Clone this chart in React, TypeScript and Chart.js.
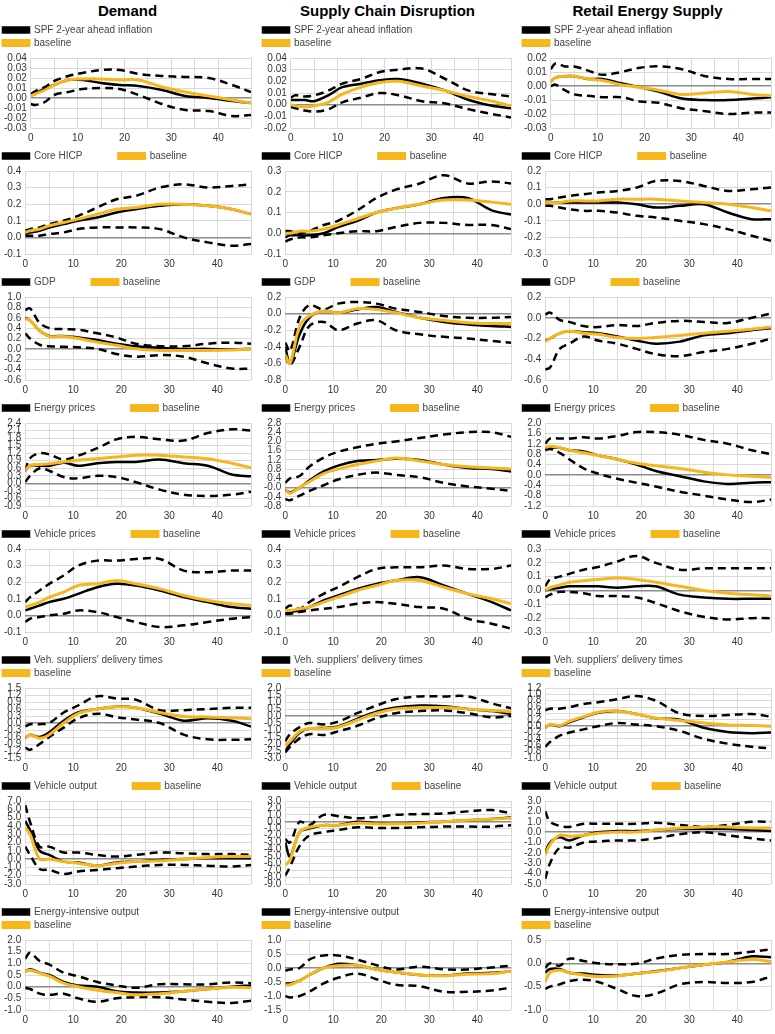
import { useEffect, useRef } from "react"
import { Chart, registerables } from "chart.js"

Chart.register(...registerables)

// horizon (months) at which values were read
const horizon = [0, 1, 3, 5, 8, 11, 15, 19, 23, 28, 33, 38, 43, 47]

const shocks = ["Demand", "Supply Chain Disruption", "Retail Energy Supply"]

// each panel: [median, baseline, upper band, lower band]
const spfDemand = [
  [0.003, 0.005, 0.009, 0.013, 0.018, 0.018, 0.015, 0.013, 0.012, 0.008, 0.002, 0.0, -0.003, -0.005],
  [0.002, 0.004, 0.008, 0.013, 0.018, 0.019, 0.019, 0.018, 0.018, 0.011, 0.006, 0.002, -0.002, -0.005],
  [0.004, 0.007, 0.011, 0.017, 0.022, 0.025, 0.028, 0.028, 0.024, 0.022, 0.021, 0.02, 0.013, 0.006],
  [-0.006, -0.007, -0.004, 0.003, 0.006, 0.009, 0.01, 0.009, 0.003, -0.006, -0.012, -0.013, -0.018, -0.017],
]
const spfSupply = [
  [0.004, 0.004, 0.004, 0.003, 0.008, 0.015, 0.018, 0.021, 0.022, 0.018, 0.012, 0.004, -0.001, -0.003],
  [0.0, -0.001, -0.002, -0.001, 0.002, 0.009, 0.015, 0.019, 0.02, 0.016, 0.012, 0.007, 0.003, -0.001],
  [0.006, 0.008, 0.007, 0.008, 0.012, 0.018, 0.022, 0.028, 0.03, 0.031, 0.022, 0.012, 0.009, 0.007],
  [-0.002, -0.003, -0.005, -0.006, -0.004, 0.002, 0.006, 0.01, 0.008, 0.003, 0.001, -0.004, -0.008, -0.011],
]
const spfEnergy = [
  [0.003, 0.006, 0.007, 0.007, 0.005, 0.005, 0.002, -0.001, -0.004, -0.009, -0.01, -0.01, -0.009, -0.008],
  [0.003, 0.006, 0.007, 0.007, 0.005, 0.004, 0.001, -0.001, -0.003, -0.006, -0.005, -0.004, -0.006, -0.007],
  [0.012, 0.016, 0.014, 0.014, 0.011, 0.008, 0.01, 0.013, 0.014, 0.012, 0.007, 0.005, 0.005, 0.005],
  [0.0, 0.001, -0.003, -0.006, -0.007, -0.008, -0.008, -0.011, -0.012, -0.016, -0.018, -0.02, -0.019, -0.019],
]
const hicpDemand = [
  [0.02, 0.03, 0.04, 0.06, 0.08, 0.1, 0.12, 0.15, 0.17, 0.19, 0.2, 0.19, 0.17, 0.14],
  [0.03, 0.04, 0.05, 0.07, 0.09, 0.11, 0.14, 0.17, 0.18, 0.2, 0.2, 0.19, 0.17, 0.14],
  [0.04, 0.05, 0.06, 0.08, 0.1, 0.13, 0.18, 0.23, 0.25, 0.3, 0.32, 0.3, 0.31, 0.32],
  [0.01, 0.01, 0.01, 0.02, 0.03, 0.05, 0.06, 0.06, 0.06, 0.05, 0.0, -0.03, -0.05, -0.04],
]
const hicpSupply = [
  [-0.02, -0.01, -0.01, -0.01, 0.0, 0.03, 0.06, 0.1, 0.12, 0.14, 0.17, 0.17, 0.11, 0.09],
  [0.0, 0.0, 0.01, 0.01, 0.02, 0.04, 0.07, 0.1, 0.12, 0.14, 0.16, 0.16, 0.15, 0.14],
  [0.01, 0.01, 0.0, 0.01, 0.04, 0.06, 0.11, 0.17, 0.21, 0.24, 0.28, 0.24, 0.25, 0.24],
  [-0.04, -0.03, -0.02, -0.02, -0.01, 0.0, 0.01, 0.01, 0.03, 0.05, 0.05, 0.04, 0.04, 0.02],
]
const hicpEnergy = [
  [0.01, 0.01, 0.01, 0.01, 0.01, 0.01, 0.01, 0.0, -0.02, -0.01, 0.0, -0.05, -0.09, -0.09],
  [0.01, 0.01, 0.01, 0.02, 0.02, 0.02, 0.03, 0.03, 0.03, 0.02, 0.01, 0.0, -0.02, -0.04],
  [0.03, 0.03, 0.04, 0.05, 0.06, 0.07, 0.08, 0.1, 0.14, 0.14, 0.11, 0.08, 0.09, 0.1],
  [-0.01, -0.01, -0.02, -0.03, -0.04, -0.04, -0.05, -0.07, -0.08, -0.1, -0.12, -0.15, -0.19, -0.22],
]
const gdpDemand = [
  [0.6, 0.55, 0.35, 0.25, 0.25, 0.22, 0.17, 0.1, 0.05, 0.02, 0.0, 0.0, -0.01, 0.0],
  [0.58, 0.55, 0.35, 0.24, 0.24, 0.2, 0.13, 0.07, 0.0, -0.03, -0.03, -0.03, -0.02, 0.0],
  [0.75, 0.78, 0.5, 0.4, 0.38, 0.37, 0.3, 0.22, 0.1, 0.05, 0.05, 0.1, 0.12, 0.1],
  [0.3, 0.2, 0.08, 0.05, 0.04, 0.03, 0.0, -0.1, -0.15, -0.12, -0.15, -0.28, -0.38, -0.38],
]
const gdpSupply = [
  [-0.4, -0.6, -0.25, -0.05, 0.03, 0.01, 0.05, 0.08, 0.02, -0.05, -0.1, -0.13, -0.15, -0.16],
  [-0.5, -0.6, -0.15, -0.03, 0.03, 0.01, 0.06, 0.05, 0.01, -0.05, -0.08, -0.11, -0.12, -0.12],
  [-0.35, -0.45, -0.05, 0.1, 0.05, 0.12, 0.14, 0.12, 0.06, 0.02, -0.03, -0.05, -0.05, -0.04],
  [-0.5, -0.62, -0.4, -0.15, -0.1, -0.2, -0.12, -0.08, -0.2, -0.25, -0.28, -0.3, -0.33, -0.35],
]
const gdpEnergy = [
  [-0.22, -0.2, -0.15, -0.13, -0.14, -0.15, -0.18, -0.22, -0.25, -0.23, -0.17, -0.15, -0.12, -0.1],
  [-0.23, -0.2, -0.15, -0.13, -0.15, -0.16, -0.19, -0.2, -0.19, -0.17, -0.15, -0.13, -0.11, -0.09],
  [0.03, 0.05, -0.02, -0.04, -0.08, -0.09, -0.07, -0.08, -0.05, -0.03, -0.04, -0.05, 0.0, 0.04],
  [-0.5, -0.48, -0.3, -0.25, -0.18, -0.22, -0.25, -0.3, -0.35, -0.37, -0.33, -0.3, -0.25, -0.2],
]
const enpDemand = [
  [0.5, 0.7, 0.7, 0.7, 0.82, 0.7, 0.8, 0.85, 0.85, 0.95, 0.8, 0.7, 0.35, 0.28],
  [0.5, 0.72, 0.75, 0.78, 0.85, 0.92, 0.98, 1.05, 1.12, 1.12, 1.05, 0.98, 0.8, 0.62],
  [0.5, 1.0, 1.2, 1.15, 0.95, 1.1, 1.4, 1.75, 1.85, 1.75, 1.7, 2.0, 2.15, 2.1],
  [0.05, 0.3, 0.6, 0.5, 0.25, 0.2, 0.3, 0.25, 0.05, -0.25, -0.45, -0.5, -0.45, -0.33],
]
const enpSupply = [
  [-0.1, -0.2, 0.0, 0.3, 0.7, 0.95, 1.15, 1.2, 1.25, 1.2, 1.0, 0.85, 0.8, 0.7],
  [-0.1, -0.25, 0.0, 0.25, 0.6, 0.8, 1.0, 1.15, 1.28, 1.15, 1.0, 0.9, 0.85, 0.8],
  [0.2, 0.4, 0.5, 0.9, 1.3, 1.55, 1.75, 1.9, 2.0, 2.15, 2.3, 2.4, 2.4, 2.2],
  [-0.5, -0.55, -0.35, -0.15, 0.1, 0.35, 0.55, 0.65, 0.55, 0.45, 0.2, 0.05, -0.05, -0.15],
]
const enpEnergy = [
  [1.0, 1.05, 1.05, 0.95, 0.9, 0.75, 0.6, 0.4, 0.15, -0.05, -0.25, -0.35, -0.3, -0.28],
  [1.05, 1.1, 1.05, 0.95, 0.85, 0.75, 0.6, 0.45, 0.35, 0.25, 0.1, 0.0, -0.05, -0.1],
  [1.2, 1.4, 1.4, 1.4, 1.45, 1.4, 1.5, 1.65, 1.65, 1.55, 1.35, 1.2, 0.95, 0.8],
  [0.95, 1.0, 0.85, 0.6, 0.25, 0.05, -0.15, -0.3, -0.45, -0.65, -0.8, -0.95, -1.05, -0.95],
]
const vehpDemand = [
  [0.03, 0.04, 0.06, 0.08, 0.1, 0.13, 0.17, 0.19, 0.18, 0.15, 0.11, 0.08, 0.05, 0.04],
  [0.05, 0.06, 0.08, 0.11, 0.14, 0.18, 0.19, 0.21, 0.19, 0.16, 0.12, 0.09, 0.07, 0.06],
  [0.08, 0.11, 0.15, 0.19, 0.24, 0.3, 0.33, 0.33, 0.34, 0.34, 0.27, 0.26, 0.27, 0.27],
  [-0.04, -0.02, -0.01, 0.0, 0.01, 0.03, 0.02, -0.01, -0.04, -0.07, -0.06, -0.04, -0.02, -0.01],
]
const vehpSupply = [
  [0.01, 0.02, 0.03, 0.05, 0.09, 0.12, 0.16, 0.19, 0.21, 0.23, 0.18, 0.13, 0.08, 0.03],
  [0.03, 0.03, 0.04, 0.05, 0.08, 0.11, 0.15, 0.18, 0.21, 0.21, 0.17, 0.13, 0.1, 0.07],
  [0.04, 0.06, 0.04, 0.08, 0.13, 0.17, 0.23, 0.28, 0.29, 0.29, 0.3, 0.28, 0.28, 0.3],
  [0.01, 0.01, 0.02, 0.03, 0.04, 0.05, 0.07, 0.08, 0.07, 0.05, 0.04, -0.02, -0.05, -0.08],
]
const vehpEnergy = [
  [0.0, 0.01, 0.02, 0.03, 0.03, 0.03, 0.02, 0.03, 0.03, -0.03, -0.05, -0.06, -0.06, -0.06],
  [0.0, 0.02, 0.04, 0.06, 0.07, 0.08, 0.09, 0.08, 0.06, 0.03, 0.0, -0.02, -0.03, -0.04],
  [0.03, 0.08, 0.1, 0.12, 0.15, 0.17, 0.21, 0.25, 0.2, 0.15, 0.16, 0.16, 0.16, 0.16],
  [-0.05, -0.03, -0.01, -0.01, -0.02, -0.04, -0.04, -0.05, -0.09, -0.15, -0.19, -0.21, -0.2, -0.2],
]
const delDemand = [
  [-0.65, -0.5, -0.6, -0.4, 0.1, 0.45, 0.6, 0.7, 0.65, 0.4, 0.1, 0.2, 0.1, -0.15],
  [-0.65, -0.5, -0.65, -0.5, 0.0, 0.4, 0.6, 0.7, 0.65, 0.45, 0.28, 0.26, 0.22, 0.18],
  [-0.15, -0.05, -0.05, 0.0, 0.45, 0.75, 1.15, 1.05, 1.0, 0.55, 0.55, 0.6, 0.65, 0.65],
  [-1.05, -1.15, -0.9, -0.6, -0.2, 0.2, 0.4, 0.25, 0.15, 0.0, -0.5, -0.7, -0.72, -0.7],
]
const delSupply = [
  [-2.5, -2.0, -1.2, -0.9, -0.85, -0.75, -0.2, 0.3, 0.6, 0.75, 0.7, 0.5, 0.35, 0.15],
  [-2.1, -1.8, -1.1, -0.9, -0.9, -0.8, -0.3, 0.2, 0.5, 0.6, 0.6, 0.5, 0.4, 0.3],
  [-1.8, -1.3, -0.8, -0.5, -0.6, -0.4, 0.2, 0.75, 1.2, 1.4, 1.4, 1.4, 0.9, 0.55],
  [-2.6, -2.2, -1.6, -1.3, -1.35, -1.1, -0.7, -0.15, 0.2, 0.35, 0.4, 0.2, -0.1, 0.0],
]
const delEnergy = [
  [-0.05, 0.05, 0.0, 0.12, 0.28, 0.42, 0.48, 0.38, 0.25, 0.2, -0.05, -0.18, -0.22, -0.2],
  [-0.05, 0.06, 0.02, 0.15, 0.3, 0.44, 0.48, 0.38, 0.26, 0.18, 0.1, 0.04, 0.02, 0.0],
  [0.5, 0.55, 0.55, 0.6, 0.7, 0.75, 0.85, 0.95, 0.8, 0.4, 0.32, 0.35, 0.38, 0.3],
  [-0.65, -0.5, -0.3, -0.2, -0.1, 0.0, 0.1, 0.05, 0.0, -0.15, -0.4, -0.55, -0.65, -0.7],
]
const vehoDemand = [
  [4.6, 3.5, 1.0, 0.5, -0.3, -0.4, -0.8, -0.4, -0.3, -0.1, 0.0, 0.1, 0.1, 0.1],
  [3.8, 3.0, 0.0, 0.0, -0.3, -0.5, -0.8, -0.5, -0.3, -0.2, 0.0, 0.2, 0.3, 0.3],
  [6.5, 4.5, 1.5, 1.5, 0.8, 0.8, 0.5, 0.3, 0.5, 0.8, 0.7, 0.6, 0.6, 0.5],
  [1.5, 0.5, -1.2, -1.3, -1.8, -1.5, -1.3, -1.1, -0.9, -0.7, -0.7, -0.8, -0.9, -0.7],
]
const vehoSupply = [
  [-3.0, -5.0, -1.5, -1.0, -0.5, -0.5, 0.0, -0.2, -0.3, -0.1, 0.0, 0.2, 0.4, 0.6],
  [-6.3, -5.5, -1.5, -0.8, -0.5, -0.5, -0.2, -0.3, -0.3, -0.2, 0.0, 0.2, 0.4, 0.5],
  [-2.5, -3.0, 0.0, -0.5, 1.0, 0.8, 0.5, 0.7, 1.0, 1.1, 1.2, 1.5, 1.7, 1.2],
  [-7.8, -6.5, -3.5, -2.0, -1.5, -1.2, -0.8, -0.9, -0.9, -0.8, -0.7, -0.7, -0.7, -0.5],
]
const vehoEnergy = [
  [-2.0, -1.0, -0.5, -0.8, -0.3, 0.0, 0.1, 0.1, 0.2, 0.3, 0.3, 0.3, 0.2, 0.1],
  [-2.2, -1.2, -0.3, -0.4, -0.3, -0.1, 0.0, 0.0, 0.2, 0.4, 0.5, 0.5, 0.4, 0.4],
  [2.0, 1.0, 0.6, 0.5, 0.8, 0.8, 0.8, 0.8, 0.9, 0.7, 0.5, 0.7, 1.0, 1.0],
  [-4.5, -3.0, -1.5, -1.5, -1.0, -0.9, -0.8, -0.8, -0.6, -0.2, 0.0, -0.3, -0.6, -0.8],
]
const eioDemand = [
  [0.65, 0.75, 0.6, 0.5, 0.2, 0.05, 0.0, -0.2, -0.25, -0.25, -0.2, -0.1, 0.0, 0.05],
  [0.65, 0.7, 0.58, 0.45, 0.15, 0.0, -0.15, -0.25, -0.35, -0.3, -0.2, -0.1, -0.03, -0.05],
  [1.2, 1.45, 1.1, 0.95, 0.6, 0.45, 0.2, 0.05, -0.05, 0.1, 0.1, 0.1, 0.18, 0.15],
  [-0.05, -0.1, -0.3, -0.35, -0.3, -0.5, -0.65, -0.5, -0.45, -0.45, -0.55, -0.65, -0.7, -0.6],
]
const eioSupply = [
  [-0.55, -0.55, -0.45, -0.25, 0.0, 0.15, 0.1, -0.05, -0.15, -0.25, -0.27, -0.2, -0.17, -0.12],
  [-0.6, -0.6, -0.45, -0.25, 0.0, 0.08, 0.1, -0.05, -0.15, -0.25, -0.28, -0.22, -0.2, -0.12],
  [-0.1, -0.05, 0.0, 0.3, 0.45, 0.45, 0.3, 0.1, -0.05, 0.05, -0.05, -0.05, 0.02, 0.08],
  [-1.0, -1.05, -1.0, -0.85, -0.55, -0.35, -0.2, -0.4, -0.6, -0.65, -0.85, -0.85, -0.8, -0.7],
]
const eioEnergy = [
  [-0.2, -0.12, -0.12, -0.2, -0.22, -0.25, -0.26, -0.22, -0.17, -0.1, -0.03, 0.03, 0.15, 0.13],
  [-0.4, -0.2, -0.15, -0.2, -0.25, -0.28, -0.27, -0.22, -0.18, -0.1, -0.03, 0.03, 0.08, 0.04],
  [-0.1, 0.0, -0.05, 0.1, 0.05, 0.0, -0.02, -0.01, 0.1, 0.18, 0.2, 0.2, 0.25, 0.3],
  [-0.55, -0.5, -0.45, -0.38, -0.35, -0.4, -0.55, -0.7, -0.65, -0.45, -0.4, -0.42, -0.4, -0.28],
]

// rows: label, y range/step, decimals, one data set per shock; wrap = legend on two lines
const rows = [
  { label: "SPF 2-year ahead inflation", wrap: true, dec: 2, axes: [[-0.03, 0.04, 0.01], [-0.02, 0.04, 0.01], [-0.03, 0.02, 0.01]], data: [spfDemand, spfSupply, spfEnergy] },
  { label: "Core HICP", wrap: false, dec: 1, axes: [[-0.1, 0.4, 0.1], [-0.1, 0.3, 0.1], [-0.3, 0.2, 0.1]], data: [hicpDemand, hicpSupply, hicpEnergy] },
  { label: "GDP", wrap: false, dec: 1, axes: [[-0.6, 1.0, 0.2], [-0.8, 0.2, 0.2], [-0.6, 0.2, 0.2]], data: [gdpDemand, gdpSupply, gdpEnergy] },
  { label: "Energy prices", wrap: false, dec: 1, axes: [[-0.9, 2.4, 0.3], [-0.8, 2.8, 0.4], [-1.2, 2.0, 0.4]], data: [enpDemand, enpSupply, enpEnergy] },
  { label: "Vehicle prices", wrap: false, dec: 1, axes: [[-0.1, 0.4, 0.1], [-0.1, 0.4, 0.1], [-0.3, 0.3, 0.1]], data: [vehpDemand, vehpSupply, vehpEnergy] },
  { label: "Veh. suppliers' delivery times", wrap: true, dec: 1, axes: [[-1.5, 1.5, 0.3], [-3.0, 2.0, 0.5], [-1.0, 1.2, 0.2]], data: [delDemand, delSupply, delEnergy] },
  { label: "Vehicle output", wrap: false, dec: 1, axes: [[-3, 7, 1], [-9, 3, 1], [-5, 3, 1]], data: [vehoDemand, vehoSupply, vehoEnergy] },
  { label: "Energy-intensive output", wrap: true, dec: 1, axes: [[-1, 2, 0.5], [-1.5, 1, 0.5], [-1, 0.5, 0.5]], data: [eioDemand, eioSupply, eioEnergy] },
]

const ORANGE = "#F7B71C"
const FONT = "Liberation Sans, Arial"

function Panel({ label, wrap, series, axis, dec }: { label: string; wrap: boolean; series: number[][]; axis: number[]; dec: number }) {
  const canvasRef = useRef<HTMLCanvasElement>(null)

  useEffect(() => {
    if (!canvasRef.current) return
    const pts = (arr: number[]) => arr.map((y, i) => ({ x: horizon[i], y }))
    // non-breaking spaces push "baseline" onto its own line, like the original
    const shown = wrap ? label + "\u00a0".repeat(40) : label + "\u00a0".repeat(12)
    const chart = new Chart(canvasRef.current, {
      type: "line",
      data: {
        datasets: [
          { label: shown, data: pts(series[0]), borderColor: "#000", backgroundColor: "#000", borderWidth: 2.5, order: 2 },
          { label: "baseline", data: pts(series[1]), borderColor: ORANGE, backgroundColor: ORANGE, borderWidth: 3, order: 1 },
          { label: "up", data: pts(series[2]), borderColor: "#000", borderWidth: 2.5, borderDash: [8, 5], order: 3 },
          { label: "lo", data: pts(series[3]), borderColor: "#000", borderWidth: 2.5, borderDash: [8, 5], order: 3 },
        ],
      },
      options: {
        animation: false,
        responsive: true,
        maintainAspectRatio: false,
        layout: { padding: { right: 4 } },
        elements: { point: { radius: 0 }, line: { tension: 0.35 } },
        plugins: {
          tooltip: { enabled: false },
          legend: {
            align: "start",
            labels: {
              filter: (item) => (item.datasetIndex ?? 0) < 2,
              sort: (a, b) => (a.datasetIndex ?? 0) - (b.datasetIndex ?? 0),
              boxWidth: 26,
              boxHeight: 5,
              padding: 3,
              color: "#444",
              font: { family: FONT, size: 10 },
            },
          },
        },
        scales: {
          x: {
            type: "linear",
            min: 0,
            max: 47,
            border: { display: false },
            grid: { color: "#d9d9d9", drawTicks: false },
            ticks: {
              stepSize: 5,
              autoSkip: false,
              padding: 4,
              color: "#333",
              font: { family: FONT, size: 10 },
              callback: (v) => (Number(v) % 10 === 0 ? String(v) : ""),
            },
          },
          y: {
            min: axis[0],
            max: axis[1],
            border: { display: false },
            grid: {
              color: (ctx) => (Math.abs(ctx.tick.value) < 1e-9 ? "#8c8c8c" : "#d9d9d9"),
              lineWidth: (ctx) => (Math.abs(ctx.tick.value) < 1e-9 ? 1.5 : 1),
              drawTicks: false,
            },
            ticks: {
              stepSize: axis[2],
              autoSkip: false,
              padding: 4,
              color: "#333",
              font: { family: FONT, size: 10 },
              callback: (v) => Number(v).toFixed(dec),
            },
          },
        },
      },
    })
    return () => chart.destroy()
  }, [label, wrap, series, axis, dec])

  return (
    <div style={{ position: "relative", width: 255, height: 126 }}>
      <canvas ref={canvasRef} />
    </div>
  )
}

export default function App() {
  return (
    <div style={{ position: "absolute", left: 0, top: 0, width: 775, background: "#fff" }}>
      <div style={{ display: "grid", gridTemplateColumns: "255px 255px 255px", columnGap: 5, height: 22 }}>
        {shocks.map((s) => (
          <div key={s} style={{ textAlign: "center", fontFamily: "Liberation Sans Narrow, Arial Narrow, sans-serif", fontWeight: "bold", fontSize: 15, lineHeight: "22px" }}>
            {s}
          </div>
        ))}
      </div>
      {rows.map((r) => (
        <div key={r.label} style={{ display: "grid", gridTemplateColumns: "255px 255px 255px", columnGap: 5 }}>
          {r.data.map((d, i) => (
            <Panel key={i} label={r.label} wrap={r.wrap} series={d} axis={r.axes[i]} dec={r.dec} />
          ))}
        </div>
      ))}
    </div>
  )
}
